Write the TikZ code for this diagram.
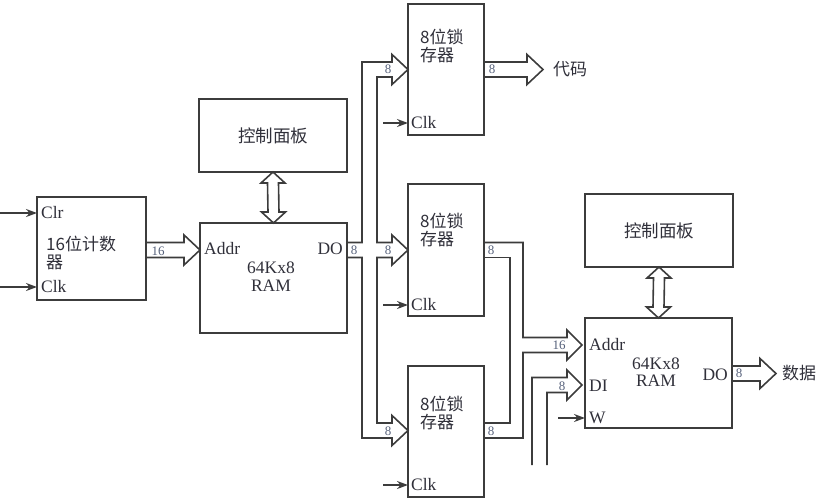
\documentclass[tikz,border=0pt]{standalone}
\usepackage{fontspec}
\setmainfont{Liberation Serif}
\newfontfamily\cjk{Noto Sans CJK SC}
\usetikzlibrary{arrows.meta,calc}
\definecolor{ln}{HTML}{3C3C3C}
\definecolor{tx}{HTML}{30303A}
\definecolor{nm}{HTML}{55607A}
\newcommand\hbus[2]{\draw[bus] ([yshift=7.5pt]#1) -- ([xshift=-16pt,yshift=7.5pt]#2) -- ([xshift=-16pt,yshift=15pt]#2) -- (#2) -- ([xshift=-16pt,yshift=-15pt]#2) -- ([xshift=-16pt,yshift=-7.5pt]#2) -- ([yshift=-7.5pt]#1);}
\newcommand\vdbl[2]{\draw[bus] (#1) -- ([shift={(12,11)}]#1) -- ([shift={(5.5,11)}]#1) -- ([shift={(5.5,-11)}]#2) -- ([shift={(12,-11)}]#2) -- (#2) -- ([shift={(-12,-11)}]#2) -- ([shift={(-5.5,-11)}]#2) -- ([shift={(-5.5,11)}]#1) -- ([shift={(-12,11)}]#1) -- cycle;}
\begin{document}
\begin{tikzpicture}[x=1pt,y=-1pt,
  blk/.style={draw=ln,line width=1.6pt,fill=white,inner sep=0,outer sep=0,anchor=north west},
  bus/.style={draw=ln,line width=1.6pt,line join=miter},
  sig/.style={draw=ln,line width=1.6pt,-{Stealth[length=11pt,width=8pt]}},
  lat/.style={font=\fontsize{17.5}{17.5}\selectfont,text=tx,inner sep=0},
  cn/.style={font=\cjk\fontsize{17}{17}\selectfont,text=tx,inner sep=0},
  num/.style={font=\fontsize{13}{13}\selectfont,text=nm,inner sep=0}]
\useasboundingbox (0,0) rectangle (823,501);

% blocks
\node[blk,minimum width=109,minimum height=103] (cnt) at (37,197) {};
\node[blk,minimum width=147,minimum height=110] (ram1) at (200,223) {};
\node[blk,minimum width=148,minimum height=73] (pan1) at (199,99) {};
\node[blk,minimum width=76,minimum height=131] (l1) at (408,4) {};
\node[blk,minimum width=76,minimum height=132] (l2) at (408,184) {};
\node[blk,minimum width=76,minimum height=131] (l3) at (408,366) {};
\node[blk,minimum width=147,minimum height=110] (ram2) at (585,318) {};
\node[blk,minimum width=148,minimum height=73] (pan2) at (585,194) {};

% counter texts
\node[lat,anchor=west] (clr) at (41,213) {Clr};
\node[lat,anchor=west] (cclk) at (41,287) {Clk};
\node[cn,anchor=west] (ct1) at (46,244) {16位计数};
\node[cn,anchor=west] (ct2) at (46,262) {器};
\coordinate (clrin) at (0,213);
\coordinate (clkin) at (0,287);
\draw[sig] (clrin) -- (clrin -| cnt.west);
\draw[sig] (clkin) -- (clkin -| cnt.west);

% RAM1 texts
\node[lat,anchor=west] (addr1) at (204,249) {Addr};
\node[lat,anchor=east] (do1) at (343,249) {DO};
\node[lat] (k1) at (271,268) {64Kx8};
\node[lat] (r1) at (271,286) {RAM};

% panels
\node[cn,font=\cjk\fontsize{17.5}{17.5}\selectfont] (p1t) at (pan1.center) {控制面板};
\node[cn,font=\cjk\fontsize{17.5}{17.5}\selectfont] (p2t) at (pan2.center) {控制面板};
\vdbl{pan1.south}{ram1.north}
\vdbl{pan2.south}{ram2.north}

% counter bus
\coordinate (cb0) at (146,250);
\coordinate (cb1) at (200,250);
\hbus{cb0}{cb1}
\node[num] (n16a) at (158,251) {16};

% latch texts
\node[cn,anchor=west] (l1a) at (420,37) {8位锁};
\node[cn,anchor=west] (l1b) at (420,55) {存器};
\node[cn,anchor=west] (l2a) at (420,221) {8位锁};
\node[cn,anchor=west] (l2b) at (420,239) {存器};
\node[cn,anchor=west] (l3a) at (420,404) {8位锁};
\node[cn,anchor=west] (l3b) at (420,422) {存器};
\node[lat,anchor=west] (lc1) at (411,123) {Clk};
\node[lat,anchor=west] (lc2) at (411,305) {Clk};
\node[lat,anchor=west] (lc3) at (411,485) {Clk};
\coordinate (c1in) at (383,123);
\coordinate (c2in) at (383,305);
\coordinate (c3in) at (383,485);
\draw[sig] (c1in) -- (c1in -| l1.west);
\draw[sig] (c2in) -- (c2in -| l2.west);
\draw[sig] (c3in) -- (c3in -| l3.west);

% distribution bus from RAM1 DO to the three latches
\draw[bus] (347,242.5) -- (362,242.5) -- (362,62) -- (392,62) -- (392,54.5) -- (408,69.5) -- (392,84.5) -- (392,77) -- (377,77) -- (377,242.5) -- (392,242.5) -- (392,235) -- (408,250) -- (392,265) -- (392,257.5) -- (377,257.5) -- (377,423) -- (392,423) -- (392,415.5) -- (408,430.5) -- (392,445.5) -- (392,438) -- (362,438) -- (362,257.5) -- (347,257.5);
\node[num] (n8do) at (354,250) {8};
\node[num] (n8i1) at (388,69.5) {8};
\node[num] (n8i2) at (388,250) {8};
\node[num] (n8i3) at (388,431) {8};

% latch1 output
\coordinate (o1a) at (484,69.5);
\coordinate (o1b) at (543,69.5);
\hbus{o1a}{o1b}
\node[num] (n8o1) at (492,69.5) {8};
\node[cn,anchor=west] (code) at (553,69) {代码};

% latch2 + latch3 outputs merged into 16-bit address
\draw[bus] (484,242.5) -- (523,242.5) -- (523,337.5) -- (567,337.5) -- (567,330) -- (582,345) -- (567,360) -- (567,352.5) -- (523,352.5) -- (523,438) -- (484,438);
\draw[bus] (484,257.5) -- (510,257.5) -- (510,423) -- (484,423);
\node[num] (n8o2) at (491,250) {8};
\node[num] (n8o3) at (491,431) {8};
\node[num] (n16b) at (559,345) {16};

% DI bus
\draw[bus] (532,465) -- (532,377.5) -- (567,377.5) -- (567,370) -- (582,385) -- (567,400) -- (567,392.5) -- (547,392.5) -- (547,465);
\node[num] (n8di) at (562,386) {8};

% RAM2 texts
\node[lat,anchor=west] (addr2) at (589,345) {Addr};
\node[lat,anchor=west] (di2) at (589,386) {DI};
\node[lat,anchor=west] (w2) at (589,418) {W};
\node[lat,anchor=east] (do2) at (728,375) {DO};
\node[lat] (k2) at (656,364) {64Kx8};
\node[lat] (r2) at (656,381) {RAM};
\coordinate (win) at (558,418);
\draw[sig] (win) -- (win -| ram2.west);

% data output
\coordinate (d0) at (732,373.5);
\coordinate (d1) at (776,373.5);
\hbus{d0}{d1}
\node[num] (n8d) at (739,373.5) {8};
\node[cn,anchor=west] (data) at (782,373) {数据};
\end{tikzpicture}
\end{document}
